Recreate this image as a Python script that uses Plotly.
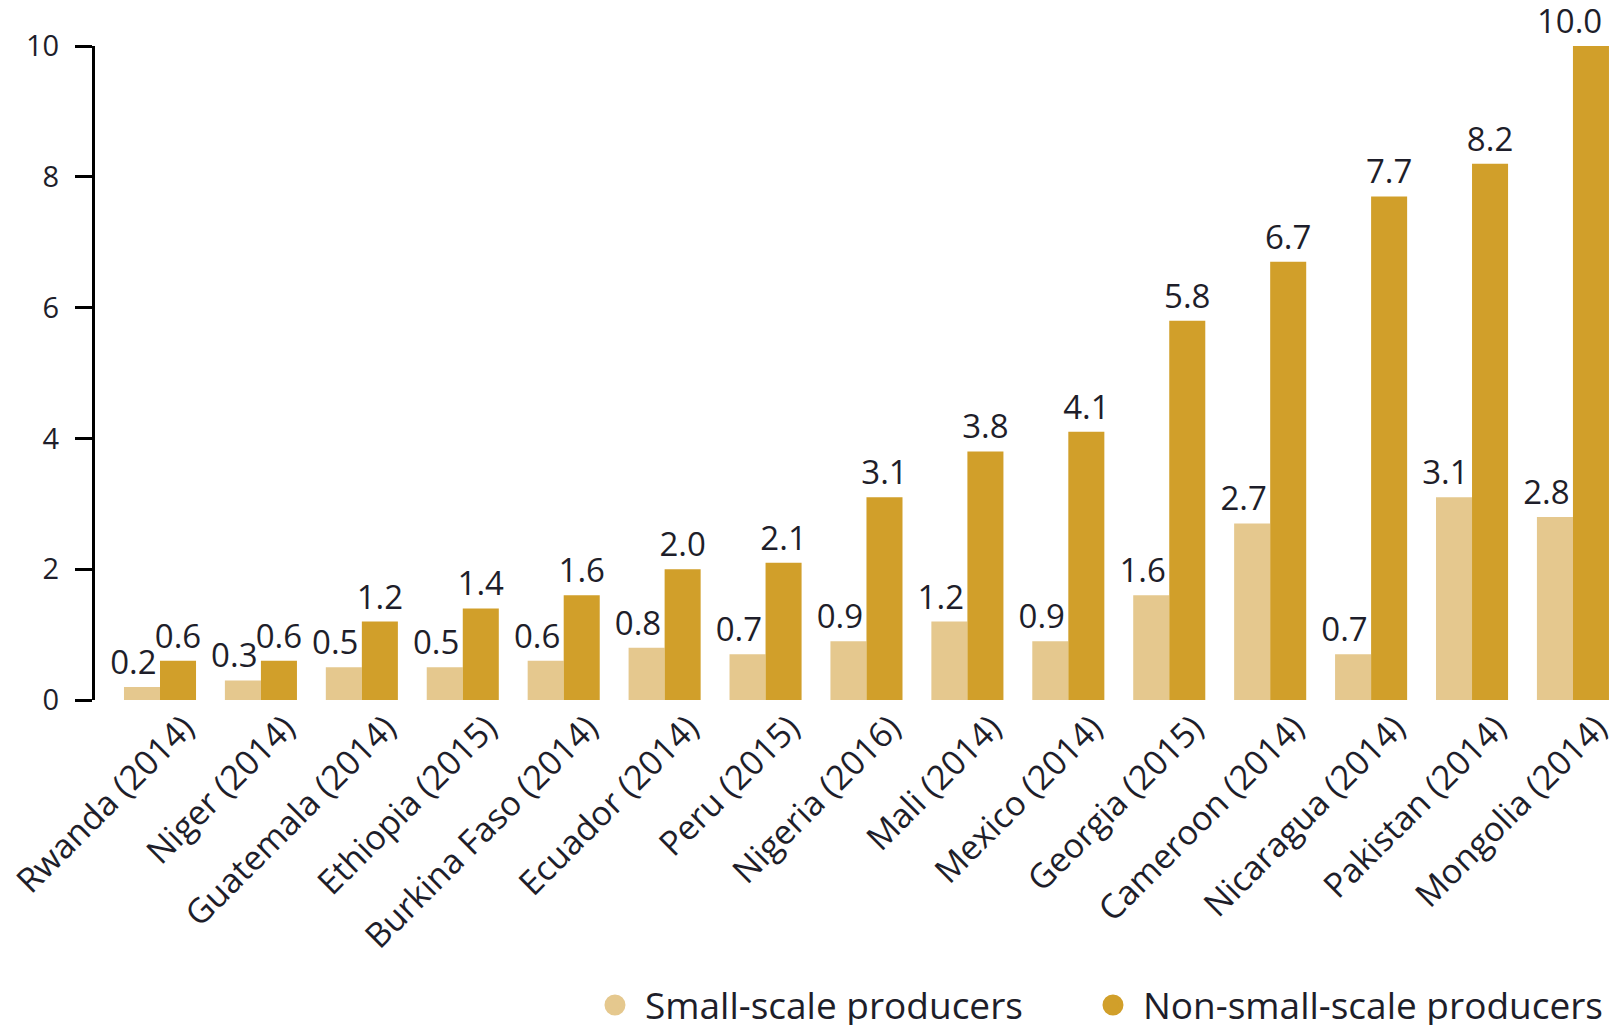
import plotly.graph_objects as go

countries = ["Rwanda (2014)", "Niger (2014)", "Guatemala (2014)", "Ethiopia (2015)",
             "Burkina Faso (2014)", "Ecuador (2014)", "Peru (2015)", "Nigeria (2016)",
             "Mali (2014)", "Mexico (2014)", "Georgia (2015)", "Cameroon (2014)",
             "Nicaragua (2014)", "Pakistan (2014)", "Mongolia (2014)"]
small_scale = [0.2, 0.3, 0.5, 0.5, 0.6, 0.8, 0.7, 0.9, 1.2, 0.9, 1.6, 2.7, 0.7, 3.1, 2.8]
non_small_scale = [0.6, 0.6, 1.2, 1.4, 1.6, 2.0, 2.1, 3.1, 3.8, 4.1, 5.8, 6.7, 7.7, 8.2, 10.0]
y_ticks = [0, 2, 4, 6, 8, 10]

LIGHT = "#E5C88E"
DARK = "#D19F2A"
FONT = "Open Sans"
TXT = "#1e1e2a"
NB = "\u00a0"

# value labels (light ones sit slightly left of their bar in the original;
# the last dark label is pulled in from the right edge)
small_text = [f"{v:.1f}" + NB * 2 for v in small_scale]
non_text = [f"{v:.1f}" for v in non_small_scale]
non_text[-1] = non_text[-1] + NB * 5

fig = go.Figure()
fig.add_trace(go.Bar(x=countries, y=small_scale, name="Small-scale producers",
                     marker=dict(color=LIGHT, line=dict(width=0)),
                     text=small_text, textposition="outside", constraintext="none",
                     textfont=dict(family=FONT, size=33, color=TXT),
                     cliponaxis=False, showlegend=False))
fig.add_trace(go.Bar(x=countries, y=non_small_scale, name="Non-small-scale producers",
                     marker=dict(color=DARK, line=dict(width=0)),
                     text=non_text, textposition="outside", constraintext="none",
                     textfont=dict(family=FONT, size=33, color=TXT),
                     cliponaxis=False, showlegend=False))
# legend entries with circle symbols (one legend box each, to reproduce spacing)
for nm, col, lg in [("Small-scale producers", LIGHT, "legend"),
                    ("Non-small-scale producers", DARK, "legend2")]:
    fig.add_trace(go.Scatter(x=[None], y=[None], mode="markers", name=nm, legend=lg,
                             marker=dict(symbol="circle", size=16, color=col,
                                         line=dict(color=col, width=5))))

leg_common = dict(orientation="h", xanchor="left", y=-0.467, yanchor="middle",
                  font=dict(family=FONT, size=37, color=TXT), itemwidth=50,
                  bgcolor="rgba(0,0,0,0)")

fig.update_layout(
    width=1611, height=1025,
    margin=dict(l=95, r=0, t=46, b=325, autoexpand=False),
    paper_bgcolor="white", plot_bgcolor="white",
    barmode="group", bargap=0.286, bargroupgap=0,
    font=dict(family=FONT, color=TXT),
    legend=dict(x=0.3232, **leg_common),
    legend2=dict(x=0.6517, **leg_common),
)
fig.update_xaxes(range=[-0.644, 14.377], showline=False, showgrid=False, zeroline=False,
                 automargin=False,
                 ticks="", tickangle=-45, ticklabelshift=24,
                 tickfont=dict(family=FONT, size=34, color=TXT))
fig.update_yaxes(range=[0, 10], tickvals=y_ticks, showgrid=False, zeroline=False,
                 automargin=False,
                 showline=True, linecolor="black", linewidth=3,
                 ticks="outside", ticklen=17, tickwidth=3, tickcolor="black",
                 ticklabelstandoff=10,
                 tickfont=dict(family=FONT, size=29, color=TXT))

fig.write_html("out.html",
               config={"displayModeBar": False},
               post_script="document.body.style.margin='0';"
                           "document.body.style.overflow='hidden';")
